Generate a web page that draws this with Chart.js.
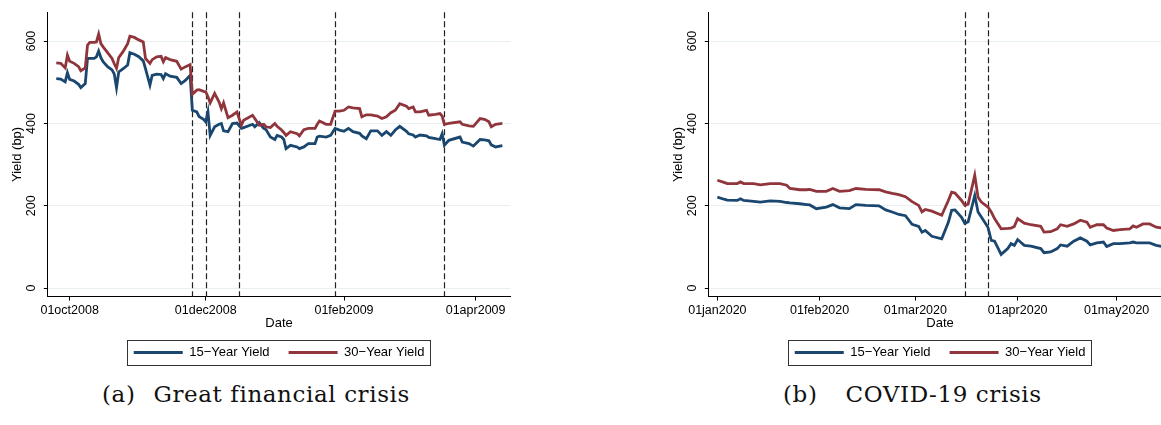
<!DOCTYPE html>
<html lang="en">
<head>
<meta charset="UTF-8">
<title>Mortgage yields: GFC and COVID-19</title>
<script src="https://cdn.jsdelivr.net/npm/chart.js"></script>
<style>
    html, body { margin: 0; padding: 0; background: #fff; overflow: hidden; }
    body { width: 1161px; height: 425px; position: relative; }
    .panel { position: absolute; top: 0; }
    .caption { position: absolute; top: 381px; font-family: "DejaVu Serif", serif; font-size: 23px; color: #111; white-space: nowrap; letter-spacing: 0.6px; }
    .caption .tag { margin-right: 18px; }
</style>
</head>
<body>

<div class="panel" style="left:0px"><canvas id="gfcChart" width="580" height="369"></canvas></div>
<div class="panel" style="left:661px"><canvas id="covidChart" width="580" height="369"></canvas></div>

<div class="caption" style="left:102px"><span class="tag">(a)</span>Great financial crisis</div>
<div class="caption" style="left:783px"><span class="tag" style="margin-right:28px">(b)</span>COVID-19 crisis</div>

<script>
// ---- data: Great financial crisis ----
const gfcDates = [
    '2008-09-25','2008-09-27','2008-09-29','2008-09-30','2008-10-01','2008-10-03','2008-10-05','2008-10-06',
    '2008-10-08','2008-10-09','2008-10-10','2008-10-12','2008-10-13','2008-10-14','2008-10-15','2008-10-16',
    '2008-10-18','2008-10-20','2008-10-21','2008-10-22','2008-10-23','2008-10-25','2008-10-27','2008-10-28',
    '2008-10-30','2008-11-01','2008-11-03','2008-11-04','2008-11-06','2008-11-07','2008-11-09','2008-11-11',
    '2008-11-12','2008-11-13','2008-11-15','2008-11-18','2008-11-20','2008-11-22','2008-11-24','2008-11-25',
    '2008-11-27','2008-11-28','2008-11-30','2008-12-01','2008-12-02','2008-12-03','2008-12-05','2008-12-07',
    '2008-12-08','2008-12-09','2008-12-11','2008-12-13','2008-12-15','2008-12-17','2008-12-18','2008-12-22',
    '2008-12-23','2008-12-25','2008-12-27','2008-12-28','2008-12-30','2009-01-01','2009-01-02','2009-01-04',
    '2009-01-05','2009-01-06','2009-01-08','2009-01-11','2009-01-12','2009-01-14','2009-01-16','2009-01-19',
    '2009-01-20','2009-01-21','2009-01-24','2009-01-26','2009-01-28','2009-01-30','2009-02-01','2009-02-03',
    '2009-02-05','2009-02-08','2009-02-09','2009-02-11','2009-02-13','2009-02-16','2009-02-18','2009-02-20',
    '2009-02-22','2009-02-24','2009-02-26','2009-03-01','2009-03-02','2009-03-04','2009-03-05','2009-03-07',
    '2009-03-10','2009-03-11','2009-03-14','2009-03-16','2009-03-17','2009-03-18','2009-03-20','2009-03-25',
    '2009-03-26','2009-03-29','2009-03-31','2009-04-03','2009-04-05','2009-04-07','2009-04-08','2009-04-10',
    '2009-04-13'
];
const gfc15 = [
    509, 508, 501, 523, 507, 503, 495, 487, 497, 558, 558, 558, 562, 576, 560, 550,
    538, 530, 520, 487, 525, 533, 542, 572, 568, 562, 552, 533, 493, 517, 520, 519,
    509, 521, 515, 512, 497, 505, 517, 432, 428, 417, 410, 404, 428, 371, 392, 398,
    400, 382, 380, 400, 401, 388, 390, 398, 392, 402, 388, 385, 367, 361, 371, 367,
    361, 339, 347, 343, 339, 343, 351, 351, 367, 369, 367, 371, 388, 384, 381, 388,
    380, 376, 370, 363, 382, 382, 371, 380, 371, 384, 393, 381, 375, 372, 367, 372,
    370, 366, 363, 361, 375, 347, 359, 367, 355, 351, 345, 361, 360, 358, 348, 343,
    346
];
const gfc30 = [
    547, 546, 535, 566, 551, 546, 538, 528, 535, 590, 597, 597, 598, 617, 594, 586,
    572, 558, 545, 534, 560, 575, 594, 612, 609, 603, 598, 558, 546, 555, 562, 563,
    550, 560, 555, 551, 532, 538, 543, 471, 481, 482, 478, 477, 465, 450, 473, 452,
    436, 450, 414, 420, 428, 396, 408, 420, 412, 396, 398, 392, 390, 400, 393, 384,
    378, 371, 380, 375, 370, 385, 388, 388, 398, 406, 398, 398, 430, 430, 432, 440,
    438, 436, 416, 421, 421, 418, 412, 416, 426, 432, 448, 442, 436, 440, 428, 428,
    432, 420, 422, 424, 418, 398, 400, 404, 398, 394, 393, 412, 410, 404, 392, 398,
    400
];
const gfcEvents = ['2008-11-25', '2008-12-01', '2008-12-16', '2009-01-28', '2009-03-18'];
const gfcTicks = ['2008-10-01', '2008-12-01', '2009-02-01', '2009-04-01'];

// ---- data: COVID-19 crisis ----
const covidDates = [
    '2020-01-01','2020-01-03','2020-01-04','2020-01-07','2020-01-08','2020-01-09','2020-01-12','2020-01-14',
    '2020-01-17','2020-01-20','2020-01-22','2020-01-23','2020-01-26','2020-01-28','2020-01-29','2020-01-31',
    '2020-02-03','2020-02-05','2020-02-07','2020-02-10','2020-02-12','2020-02-15','2020-02-19','2020-02-21',
    '2020-02-23','2020-02-25','2020-02-27','2020-02-29','2020-03-02','2020-03-03','2020-03-04','2020-03-06',
    '2020-03-09','2020-03-11','2020-03-12','2020-03-13','2020-03-15','2020-03-16','2020-03-17','2020-03-19',
    '2020-03-20','2020-03-21','2020-03-23','2020-03-24','2020-03-25','2020-03-27','2020-03-29','2020-03-30',
    '2020-03-31','2020-04-01','2020-04-03','2020-04-05','2020-04-08','2020-04-09','2020-04-11','2020-04-13',
    '2020-04-14','2020-04-16','2020-04-18','2020-04-20','2020-04-22','2020-04-23','2020-04-25','2020-04-27',
    '2020-04-28','2020-04-30','2020-05-02','2020-05-05','2020-05-06','2020-05-07','2020-05-09','2020-05-11',
    '2020-05-13','2020-05-15'
];
const covid15 = [
    221, 216, 214, 213, 217, 213, 211, 209, 212, 211, 208, 207, 205, 203, 202, 193,
    197, 203, 195, 193, 203, 201, 200, 190, 185, 179, 176, 155, 150, 136, 140, 126,
    120, 160, 189, 190, 172, 157, 161, 225, 185, 173, 148, 116, 114, 82, 96, 108,
    104, 118, 104, 102, 96, 86, 88, 96, 105, 102, 114, 122, 114, 105, 110, 112,
    101, 108, 108, 110, 112, 110, 110, 110, 104, 101
];
const covid30 = [
    262, 257, 254, 254, 258, 254, 254, 251, 254, 254, 250, 242, 239, 239, 240, 235,
    235, 242, 235, 237, 242, 240, 239, 234, 230, 227, 222, 210, 201, 185, 191, 187,
    177, 213, 233, 231, 213, 201, 204, 274, 221, 209, 197, 185, 169, 144, 145, 146,
    150, 169, 158, 154, 150, 136, 137, 144, 154, 150, 156, 165, 160, 148, 154, 154,
    146, 140, 142, 144, 151, 148, 156, 156, 148, 146
];
const covidEvents = ['2020-03-16', '2020-03-23'];
const covidTicks = ['2020-01-01', '2020-02-01', '2020-03-01', '2020-04-01', '2020-05-01'];

const yTicks = [0, 200, 400, 600];
const seriesLabels = ['15\u2212Year Yield', '30\u2212Year Yield'];
const seriesColors = ['#1a476f', '#90353b'];

// ---- helpers ----
const DAY = 86400000;
const MONTHS = ['jan','feb','mar','apr','may','jun','jul','aug','sep','oct','nov','dec'];
function toDay(s) { return Date.parse(s) / DAY; }
function stataDate(day) {
    const d = new Date(Math.round(day) * DAY);
    return String(d.getUTCDate()).padStart(2, '0') + MONTHS[d.getUTCMonth()] + d.getUTCFullYear();
}

const FONT = 'Liberation Sans, Arial, sans-serif';

// vertical dashed lines at policy dates
const eventLines = {
    id: 'eventLines',
    beforeDatasetsDraw(chart, args, opts) {
        const {ctx, chartArea} = chart;
        const x = chart.scales.x;
        ctx.save();
        ctx.strokeStyle = '#222';
        ctx.lineWidth = 1.2;
        ctx.setLineDash([6, 3]);
        opts.dates.forEach(s => {
            const px = Math.round(x.getPixelForValue(toDay(s))) + 0.5;
            ctx.beginPath();
            ctx.moveTo(px, chartArea.top);
            ctx.lineTo(px, chartArea.bottom);
            ctx.stroke();
        });
        ctx.restore();
    }
};

// rotated y tick labels (Stata style) and a frame round the legend
const stataDecor = {
    id: 'stataDecor',
    afterDraw(chart) {
        const {ctx, chartArea} = chart;
        const y = chart.scales.y;
        ctx.save();
        ctx.fillStyle = '#000';
        ctx.font = '12.5px ' + FONT;
        ctx.textAlign = 'center';
        ctx.textBaseline = 'middle';
        y.ticks.forEach(t => {
            ctx.save();
            ctx.translate(chartArea.left - 16, y.getPixelForValue(t.value));
            ctx.rotate(-Math.PI / 2);
            ctx.fillText(String(t.value), 0, 0);
            ctx.restore();
        });
        const hb = chart.legend.legendHitBoxes;
        if (hb && hb.length) {
            const first = hb[0], last = hb[hb.length - 1];
            const left = first.left - 6.5;
            const right = last.left + last.width + 5.5;
            const top = first.top - 6.5;
            const bottom = first.top + first.height + 5.5;
            ctx.strokeStyle = '#333';
            ctx.lineWidth = 1;
            ctx.strokeRect(Math.round(left) + 0.5, Math.round(top) + 0.5, Math.round(right - left), Math.round(bottom - top));
        }
        ctx.restore();
    }
};

function makeChart(id, dates, s15, s30, events, xTicks, xMin, xMax) {
    const series = [s15, s30];
    const datasets = series.map((vals, i) => ({
        label: seriesLabels[i],
        data: dates.map((d, j) => ({x: toDay(d), y: vals[j]})),
        borderColor: seriesColors[i],
        backgroundColor: seriesColors[i],
        borderWidth: 2.8,
        pointRadius: 0,
        tension: 0,
        order: 2 - i
    }));

    return new Chart(document.getElementById(id), {
        type: 'line',
        data: {datasets},
        options: {
            responsive: false,
            animation: false,
            events: [],
            layout: {padding: {top: 12.3, right: 69.6, bottom: 0, left: 0}},
            plugins: {
                tooltip: {enabled: false},
                legend: {
                    position: 'bottom',
                    fullSize: false,
                    labels: {
                        color: '#000',
                        font: {family: FONT, size: 13},
                        boxWidth: 49,
                        boxHeight: 3,
                        padding: 19,
                        generateLabels: chart => chart.data.datasets.map((ds, i) => ({
                            text: ds.label,
                            fillStyle: ds.borderColor,
                            strokeStyle: ds.borderColor,
                            lineWidth: 0,
                            hidden: false,
                            datasetIndex: i
                        }))
                    }
                },
                eventLines: {dates: events}
            },
            scales: {
                x: {
                    type: 'linear',
                    min: xMin,
                    max: xMax,
                    afterBuildTicks: scale => { scale.ticks = xTicks.map(s => ({value: toDay(s)})); },
                    afterFit: scale => { scale.height = 30.5; },
                    ticks: {
                        callback: v => stataDate(v),
                        color: '#000',
                        font: {family: FONT, size: 12.5},
                        padding: 2.5,
                        maxRotation: 0,
                        autoSkip: false
                    },
                    grid: {drawOnChartArea: false, drawTicks: true, tickLength: 4, tickColor: '#000'},
                    border: {display: true, color: '#000', width: 1},
                    title: {display: true, text: 'Date', color: '#000', font: {family: FONT, size: 13}, padding: {top: 0, bottom: -4.6}}
                },
                y: {
                    type: 'linear',
                    min: -20.3,
                    max: 670,
                    afterBuildTicks: scale => { scale.ticks = yTicks.map(v => ({value: v})); },
                    afterFit: scale => { scale.width = 47.8; },
                    ticks: {display: false},
                    grid: {color: '#e9f0f0', lineWidth: 1, drawTicks: true, tickLength: 4, tickColor: '#000'},
                    border: {display: true, color: '#000', width: 1},
                    title: {display: true, text: 'Yield (bp)', color: '#000', font: {family: FONT, size: 13}, padding: {top: 9.4, bottom: 0}}
                }
            }
        },
        plugins: [eventLines, stataDecor]
    });
}

const gfcBase = toDay('2008-10-01');
makeChart('gfcChart', gfcDates, gfc15, gfc30, gfcEvents, gfcTicks, gfcBase - 9.8, gfcBase + 197.6);

const covidBase = toDay('2020-01-01');
makeChart('covidChart', covidDates, covid15, covid30, covidEvents, covidTicks, covidBase - 2.6, covidBase + 137.6);
</script>
</body>
</html>
